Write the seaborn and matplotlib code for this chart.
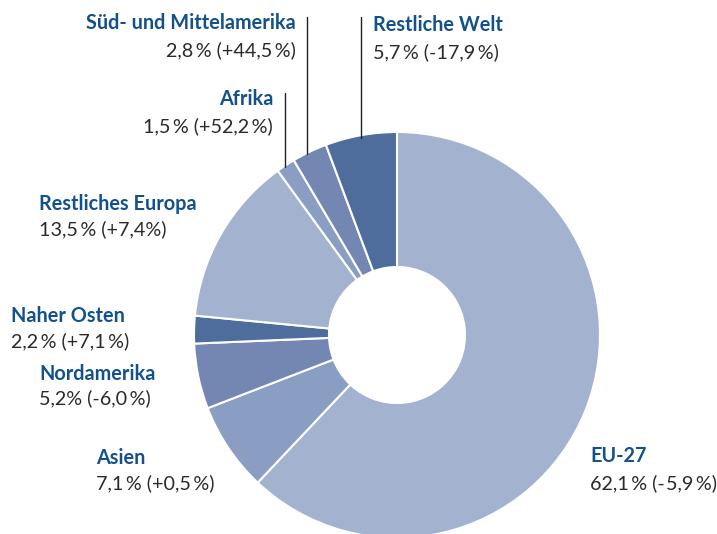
import matplotlib.pyplot as plt
import seaborn as sns

sns.set_theme()
sns.set_style("white")
plt.rcParams['font.family'] = ['Lato', 'DejaVu Sans']

# Data (clockwise from the top)
regions = ["EU-27", "Asien", "Nordamerika", "Naher Osten",
           "Restliches Europa", "Afrika", "Süd- und Mittelamerika", "Restliche Welt"]
shares = [62.1, 7.1, 5.2, 2.2, 13.5, 1.5, 2.8, 5.7]
value_labels = ["62,1\u2009% (-\u200a5,9\u2009%)", "7,1\u2009% (+0,5\u2009%)",
                "5,2% (-6,0\u2009%)", "2,2\u2009% (+7,1\u2009%)",
                "13,5\u2009% (+7,4%)", "1,5\u2009% (+52,2\u2009%)",
                "2,8\u2009% (+44,5\u2009%)", "5,7\u2009% (-17,9\u2009%)"]
colors = ["#a3b3cf", "#8a9dc2", "#7486b2", "#4f6d9c",
          "#a3b3cf", "#8a9dc2", "#7486b2", "#4f6d9c"]

W, H = 717, 534
fig = plt.figure(figsize=(W / 100, H / 100), dpi=100)
ax = fig.add_axes([0, 0, 1, 1])
ax.axis("off")

cx, cy, r = 397, 335, 203
# y axis is inverted, so counterclock=True draws clockwise on screen
ax.pie(shares, colors=colors, center=(cx, cy), radius=r, startangle=-90,
       counterclock=True,
       wedgeprops=dict(width=r * 0.665, edgecolor="white", linewidth=1.5))
ax.set_xlim(0, W)
ax.set_ylim(H, 0)
ax.set_aspect("equal")

title_color = "#12518c"
value_color = "#2a2a2a"

# label anchor: (x, y_title, y_value, ha)
label_pos = {
    "EU-27": (590, 456, 483, "left"),
    "Asien": (96, 458, 483, "left"),
    "Nordamerika": (39, 374, 398, "left"),
    "Naher Osten": (11, 316, 341, "left"),
    "Restliches Europa": (39, 204, 229, "left"),
    "Afrika": (273, 99, 126, "right"),
    "Süd- und Mittelamerika": (296, 23, 50, "right"),
    "Restliche Welt": (373, 25, 52, "left"),
}

for name, val in zip(regions, value_labels):
    x, yt, yv, ha = label_pos[name]
    ax.text(x, yt, name, ha=ha, va="center", fontsize=14.3,
            fontweight="bold", color=title_color)
    ax.text(x, yv, val, ha=ha, va="center", fontsize=14.2,
            color=value_color)

# leader lines
ax.plot([285, 285], [93, 167], color="#222222", linewidth=1)
ax.plot([307, 307], [17, 154], color="#222222", linewidth=1)
ax.plot([361, 361], [17, 138], color="#222222", linewidth=1)

fig.savefig("out.png", dpi=100)
